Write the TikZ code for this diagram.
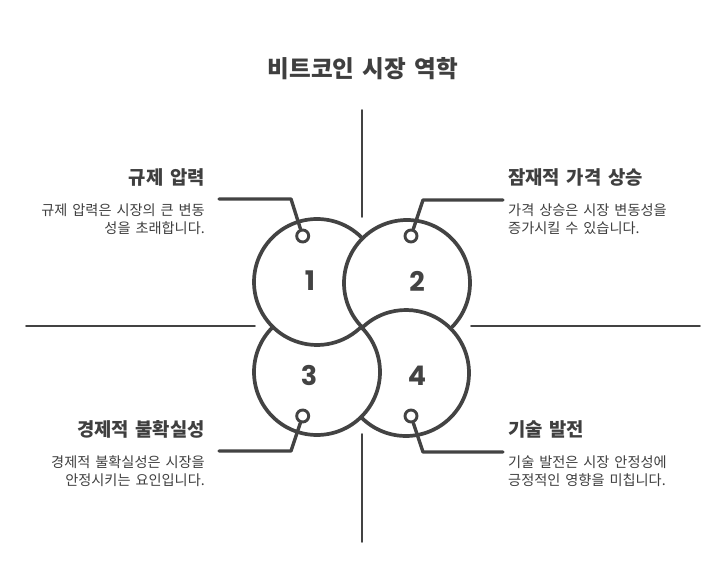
\documentclass[tikz,border=0pt]{standalone}
\usepackage{fontspec}
\setmainfont[WordSpace=1.55]{Noto Sans CJK KR}
\newfontfamily\numfont{Poppins}
\definecolor{ink}{HTML}{434343}
\definecolor{inktext}{HTML}{3F3F3F}
\tikzset{
  ring/.style={draw=ink,line width=3.7pt,line cap=round},
  leader/.style={draw=ink,line width=3.4pt,line cap=round,line join=round},
  axisline/.style={draw=ink,line width=1.6pt,line cap=round},
  dot/.style={circle,draw=ink,line width=2.9pt,fill=white,minimum size=12pt,inner sep=0pt},
  titletext/.style={inner sep=0pt,text=inktext,font=\fontsize{23.6}{28}\selectfont\bfseries},
  headtext/.style={inner sep=0pt,text=inktext,font=\fontsize{18.8}{22}\selectfont\bfseries},
  bodytext/.style={inner sep=0pt,text=inktext,font=\fontsize{14.2}{22}\selectfont},
  numtext/.style={inner sep=0pt,text=ink,font=\fontsize{27}{30}\selectfont\numfont\bfseries},
}
\begin{document}
\begin{tikzpicture}[x=1pt,y=1pt]
\useasboundingbox[fill=white] (0,0) rectangle (725,580);
% axes
\coordinate (vt1) at (362,470); \coordinate (vt2) at (362,363);
\coordinate (vb1) at (362,146); \coordinate (vb2) at (362,38);
\coordinate (hl1) at (26,254); \coordinate (hl2) at (255,254);
\coordinate (hr1) at (471,254); \coordinate (hr2) at (700,254);
\draw[axisline] (vt1) -- (vt2);
\draw[axisline] (vb1) -- (vb2);
\draw[axisline] (hl1) -- (hl2);
\draw[axisline] (hr1) -- (hr2);
% rings
\coordinate (c1) at (317,298);
\coordinate (c2) at (407,297);
\coordinate (c3) at (317,208);
\coordinate (c4) at (406,207);
\draw[ring] (c1) ++(43.7:63) arc[start angle=43.7,end angle=315.6,radius=63];
\draw[ring] (c2) ++(225:63) arc[start angle=225,end angle=-44,radius=63];
\draw[ring] (c3) ++(135:63) arc[start angle=135,end angle=404,radius=63];
\draw[ring] (c4) ++(225.6:63) arc[start angle=225.6,end angle=493,radius=63];
% dots
\node[dot] (d1) at (302.7,344) {};
\node[dot] (d2) at (411,344) {};
\node[dot] (d3) at (302.7,164) {};
\node[dot] (d4) at (411,164) {};
% leaders
\coordinate (l1a) at (219,381); \coordinate (l1b) at (291,381);
\coordinate (l2a) at (503,380); \coordinate (l2b) at (423,380);
\coordinate (l3a) at (219,129); \coordinate (l3b) at (291,129);
\coordinate (l4a) at (503,128); \coordinate (l4b) at (423,128);
\draw[leader] (l1a) -- (l1b) -- (d1);
\draw[leader] (l2a) -- (l2b) -- (d2);
\draw[leader] (l3a) -- (l3b) -- (d3);
\draw[leader] (l4a) -- (l4b) -- (d4);
% numbers
\node[numtext] (n1) at (310,299) {1};
\node[numtext] (n2) at (417,299) {2};
\node[numtext] (n3) at (309,204) {3};
\node[numtext] (n4) at (417,204) {4};
% title
\node[titletext] (title) at (363,511) {비트코인 시장 역학};
% left-top
\node[headtext,anchor=east] (h1) at (205,402.5) {규제 압력};
\node[bodytext,anchor=east] (b1a) at (205,370) {규제 압력은 시장의 큰 변동};
\node[bodytext,anchor=east] (b1b) at (205,352) {성을 초래합니다.};
% right-top
\node[headtext,anchor=west] (h2) at (508,402.5) {잠재적 가격 상승};
\node[bodytext,anchor=west] (b2a) at (508,370) {가격 상승은 시장 변동성을};
\node[bodytext,anchor=west] (b2b) at (508,352) {증가시킬 수 있습니다.};
% left-bottom
\node[headtext,anchor=east] (h3) at (205,150.5) {경제적 불확실성};
\node[bodytext,anchor=east] (b3a) at (205,118) {경제적 불확실성은 시장을};
\node[bodytext,anchor=east] (b3b) at (205,100) {안정시키는 요인입니다.};
% right-bottom
\node[headtext,anchor=west] (h4) at (508,150.5) {기술 발전};
\node[bodytext,anchor=west] (b4a) at (508,118) {기술 발전은 시장 안정성에};
\node[bodytext,anchor=west] (b4b) at (508,100) {긍정적인 영향을 미칩니다.};
\end{tikzpicture}
\end{document}
